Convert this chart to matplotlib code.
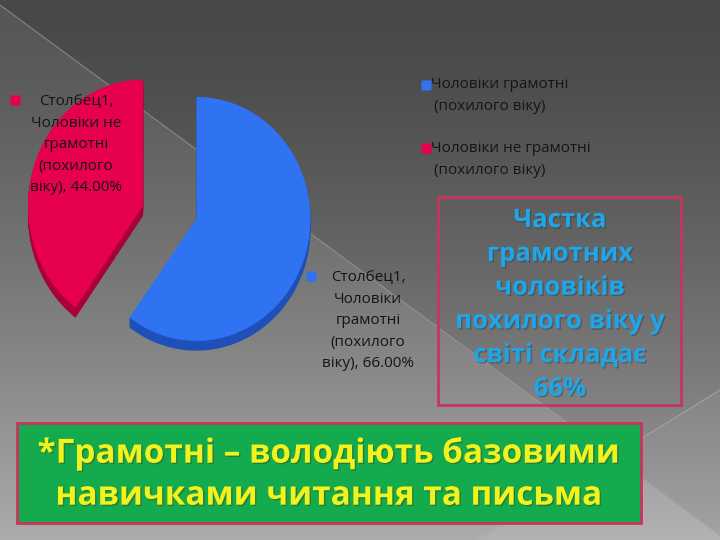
import numpy as np
import matplotlib
matplotlib.use('Agg')
import matplotlib.pyplot as plt
import matplotlib.patheffects as pe
from matplotlib.patches import Rectangle

# chart data
series_name = 'Столбец1'
categories = ['Чоловіки грамотні\n(похилого віку)', 'Чоловіки не грамотні\n(похилого віку)']
label_names = ['Чоловіки\nграмотні\n(похилого\nвіку)', 'Чоловіки не\nграмотні\n(похилого\nвіку)']
values = [66.0, 44.0]
face_colors = ['#2f72f2', '#e6004e']
side_colors = ['#1f4fb8', '#a8003a']
note_text = 'Частка\nграмотних\nчоловіків\nпохилого віку у\nсвіті складає\n66%'
footer_text = '*Грамотні – володіють базовими\nнавичками читання та письма'

plt.rcParams['font.family'] = ['Open Sans', 'DejaVu Sans']

W, H = 720, 540
fig = plt.figure(figsize=(7.2, 5.4), dpi=100)

# background: vertical grey gradient, lighter wedge below the diagonal
ax_bg = fig.add_axes([0, 0, 1, 1], zorder=0)
yy, xx = np.mgrid[0:H, 0:W]
grey = 0x48 + (yy / H) ** 1.4 * (0x9e - 0x48)
grey = grey + 14 * (yy > 5 + 0.735 * xx)
grey = grey + 6 * (yy > 540 - 0.62 * (xx - 477))
img = np.clip(grey, 0, 255) / 255.0
ax_bg.imshow(np.dstack([img, img, img]), extent=(0, W, H, 0), aspect='auto')
ax_bg.plot([0, 720], [5, 535], color='#9a9a9a', lw=0.8, alpha=0.7)
ax_bg.plot([477, 720], [540, 390], color='#b0b0b0', lw=0.8, alpha=0.7)
ax_bg.set_xlim(0, W)
ax_bg.set_ylim(H, 0)
ax_bg.axis('off')

# exploded pseudo-3D pie; the far (left) slice is drawn a bit larger to mimic perspective
explode = [0.05, 0.42]
pie_boxes = [(191, 217, 114, 122), (189, 222, 115, 126)]  # cx, cy, rx, ry per slice
for k, (cx, cy, rx, ry) in enumerate(pie_boxes):
    ax_pie = fig.add_axes([(cx - 1.25 * rx) / W, (H - cy - 1.25 * ry) / H,
                           2.5 * rx / W, 2.5 * ry / H], zorder=1 + k * 0.1)
    side = ['none', 'none']
    face = ['none', 'none']
    side[k] = side_colors[k]
    face[k] = face_colors[k]
    for d in np.linspace(0.08, 0.0, 14)[:-1]:
        ax_pie.pie(values, colors=side, startangle=90, counterclock=False,
                   explode=explode, center=(0, -d), wedgeprops=dict(linewidth=0))
    ax_pie.pie(values, colors=face, startangle=90, counterclock=False,
               explode=explode, wedgeprops=dict(linewidth=0))
    ax_pie.set_aspect('auto')
    ax_pie.set_xlim(-1.25, 1.25)
    ax_pie.set_ylim(-1.25, 1.25)
    ax_pie.axis('off')

# overlay for labels, legend and text boxes
ax = fig.add_axes([0, 0, 1, 1], zorder=2)
ax.patch.set_visible(False)
ax.set_xlim(0, W)
ax.set_ylim(H, 0)
ax.axis('off')

# data labels
label_pos = [(368, 270, 311, 276), (76, 94, 15, 100)]
for i, (tx, ty, mx, my) in enumerate(label_pos):
    txt = f'{series_name},\n{label_names[i]}, {values[i]:.2f}%'
    ax.text(tx, ty, txt, ha='center', va='top', fontsize=11,
            color='#151515', linespacing=1.6)
    ax.plot(mx, my, marker='s', ms=6.5, color=face_colors[i], mec='none')

# legend
for i, ly in enumerate([85, 148]):
    ax.plot(426, ly, marker='s', ms=6.5, color=face_colors[i], mec='none')
    head, tail = categories[i].split('\n')
    ax.text(431, ly, head, ha='left', va='center', fontsize=11, color='#151515')
    ax.text(434, ly + 22, tail, ha='left', va='center', fontsize=11, color='#151515')

# highlighted note
ax.add_patch(Rectangle((438, 197), 243, 208, fill=False, ec='#c8355c', lw=2))
ax.text(560, 304, note_text, ha='center', va='center', fontsize=18.5,
        fontweight='bold', color='#1ea6ea', linespacing=1.32,
        path_effects=[pe.withSimplePatchShadow(offset=(1, -1), shadow_rgbFace='#333333', alpha=0.4)])

# footer box
ax.add_patch(Rectangle((17, 423), 624, 100, fc='#14aa4e', ec='#c8355c', lw=2))
ax.text(329, 475, footer_text, ha='center', va='center', fontsize=24,
        fontweight='bold', color='#f2f21e', linespacing=1.36,
        path_effects=[pe.withSimplePatchShadow(offset=(1, -1), shadow_rgbFace='#335522', alpha=0.5)])

fig.savefig('out.png', dpi=100)
